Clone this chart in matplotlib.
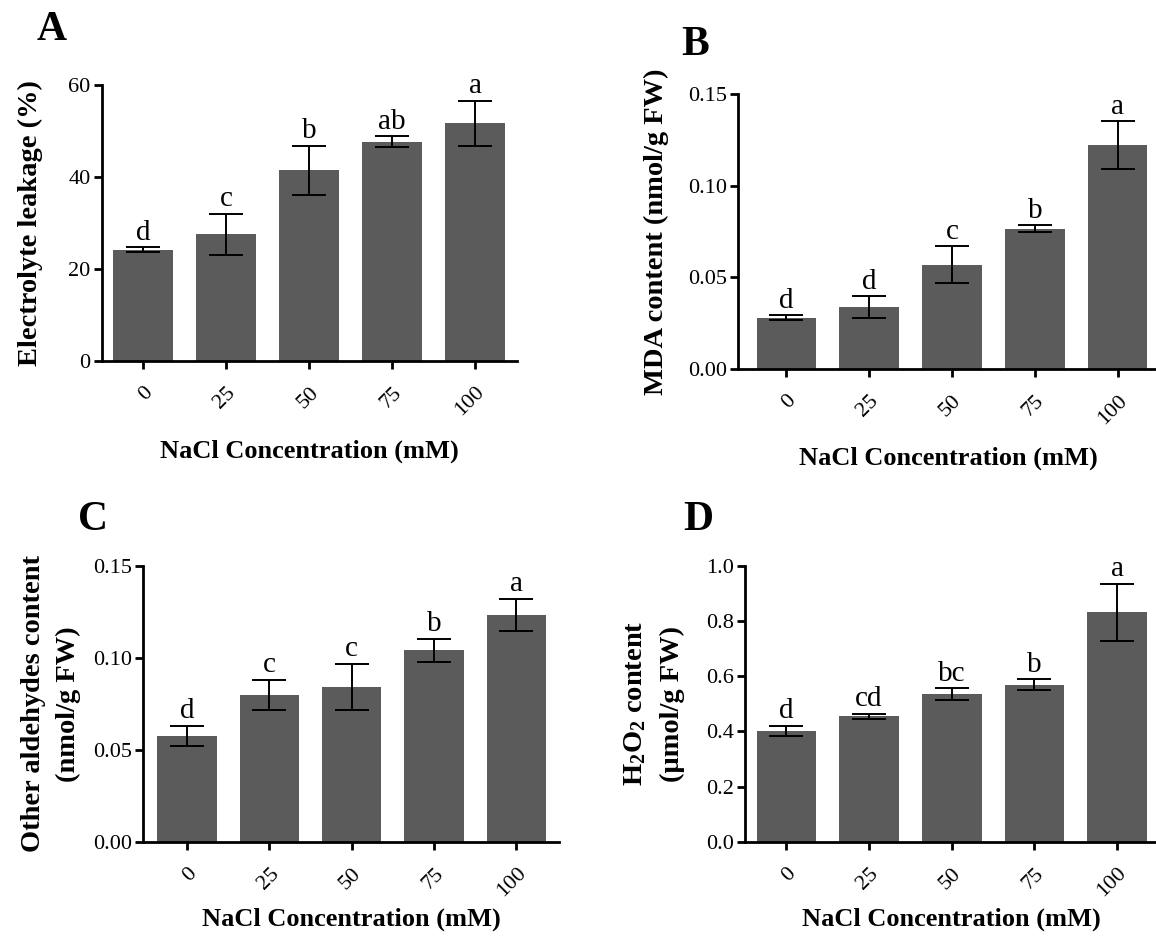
import matplotlib
matplotlib.use("Agg")
import matplotlib.pyplot as plt
import numpy as np

plt.rcParams['font.family'] = ['Liberation Serif', 'DejaVu Serif']
plt.rcParams['mathtext.fontset'] = 'custom'
plt.rcParams['mathtext.rm'] = 'Liberation Serif:bold'
plt.rcParams['mathtext.default'] = 'rm'

# data
nacl = ['0', '25', '50', '75', '100']

leakage = [24.2, 27.5, 41.4, 47.7, 51.7]
leakage_err = [0.5, 4.5, 5.4, 1.1, 4.9]
leakage_sig = ['d', 'c', 'b', 'ab', 'a']

mda = [0.028, 0.0338, 0.057, 0.0765, 0.122]
mda_err = [0.0015, 0.006, 0.010, 0.002, 0.013]
mda_sig = ['d', 'd', 'c', 'b', 'a']

aldehyde = [0.0576, 0.0797, 0.0842, 0.104, 0.1234]
aldehyde_err = [0.0055, 0.0083, 0.0126, 0.0063, 0.0087]
aldehyde_sig = ['d', 'c', 'c', 'b', 'a']

h2o2 = [0.402, 0.455, 0.535, 0.569, 0.831]
h2o2_err = [0.018, 0.009, 0.022, 0.019, 0.104]
h2o2_sig = ['d', 'cd', 'bc', 'b', 'a']

W, H = 1156, 939
fig = plt.figure(figsize=(W / 100, H / 100), dpi=100)


def box(left, right, top, bottom):
    """Make an axes from pixel edges."""
    return fig.add_axes([left / W, 1 - bottom / H, (right - left) / W, (bottom - top) / H])


def bar_panel(ax, vals, errs, sig, ylim, yticks, fmt, ylabel, xlim, ypad, xpad, lsp=1.25):
    x = np.arange(len(nacl))
    ax.bar(x, vals, width=0.72, color='#5b5b5b', zorder=2)
    ax.errorbar(x, vals, yerr=errs, fmt='none', ecolor='black',
                elinewidth=1.4, capsize=12, capthick=1.4, zorder=3)
    for xi, v, e, s in zip(x, vals, errs, sig):
        ax.annotate(s, (xi, v + e), xytext=(0, 1), textcoords='offset points',
                    ha='center', va='bottom', fontsize=21)
    ax.set_xlim(*xlim)
    ax.set_ylim(*ylim)
    ax.set_yticks(yticks)
    ax.set_yticklabels([fmt.format(t) for t in yticks], fontsize=16)
    ax.set_xticks(x)
    ax.set_xticklabels(nacl, rotation=45, ha='right', va='top',
                       rotation_mode='anchor', fontsize=16)
    ax.spines['top'].set_visible(False)
    ax.spines['right'].set_visible(False)
    ax.spines['left'].set_linewidth(2)
    ax.spines['bottom'].set_linewidth(2)
    ax.tick_params(axis='both', width=2, length=6, direction='out')
    ax.tick_params(axis='y', pad=2)
    ax.tick_params(axis='x', pad=10)
    ax.set_ylabel(ylabel, fontsize=20.5, fontweight='bold', labelpad=ypad,
                  linespacing=lsp)
    ax.set_xlabel('NaCl Concentration (mM)', fontsize=19, fontweight='bold', labelpad=xpad)


axA = box(101.7, 516.7, 85, 360.7)
bar_panel(axA, leakage, leakage_err, leakage_sig, (0, 60), [0, 20, 40, 60], '{:.0f}',
          'Electrolyte leakage (%)', (-0.5, 4.5), 18, 14)

axB = box(738.3, 1159, 94, 369)
bar_panel(axB, mda, mda_err, mda_sig, (0, 0.15), [0, 0.05, 0.10, 0.15], '{:.2f}',
          'MDA content (nmol/g FW)', (-0.58, 4.5), 14, 13)

axC = box(143.3, 559.3, 565.7, 841.7)
bar_panel(axC, aldehyde, aldehyde_err, aldehyde_sig, (0, 0.15), [0, 0.05, 0.10, 0.15], '{:.2f}',
          'Other aldehydes content\n(nmol/g FW)', (-0.53, 4.52), 9, 5, lsp=1.5)

axD = box(745, 1158.5, 565.7, 841.7)
bar_panel(axD, h2o2, h2o2_err, h2o2_sig, (0, 1.0), [0, 0.2, 0.4, 0.6, 0.8, 1.0], '{:.1f}',
          'H$_2$O$_2$ content\n(\u03bcmol/g FW)', (-0.5, 4.5), 15, 5, lsp=1.6)

# panel letters
for lab, px, py in [('A', 52, 30), ('B', 695, 45), ('C', 93, 520), ('D', 698, 520)]:
    fig.text(px / W, 1 - py / H, lab, fontsize=30, fontweight='bold',
             ha='center', va='center')

fig.savefig('out.png', dpi=100)
